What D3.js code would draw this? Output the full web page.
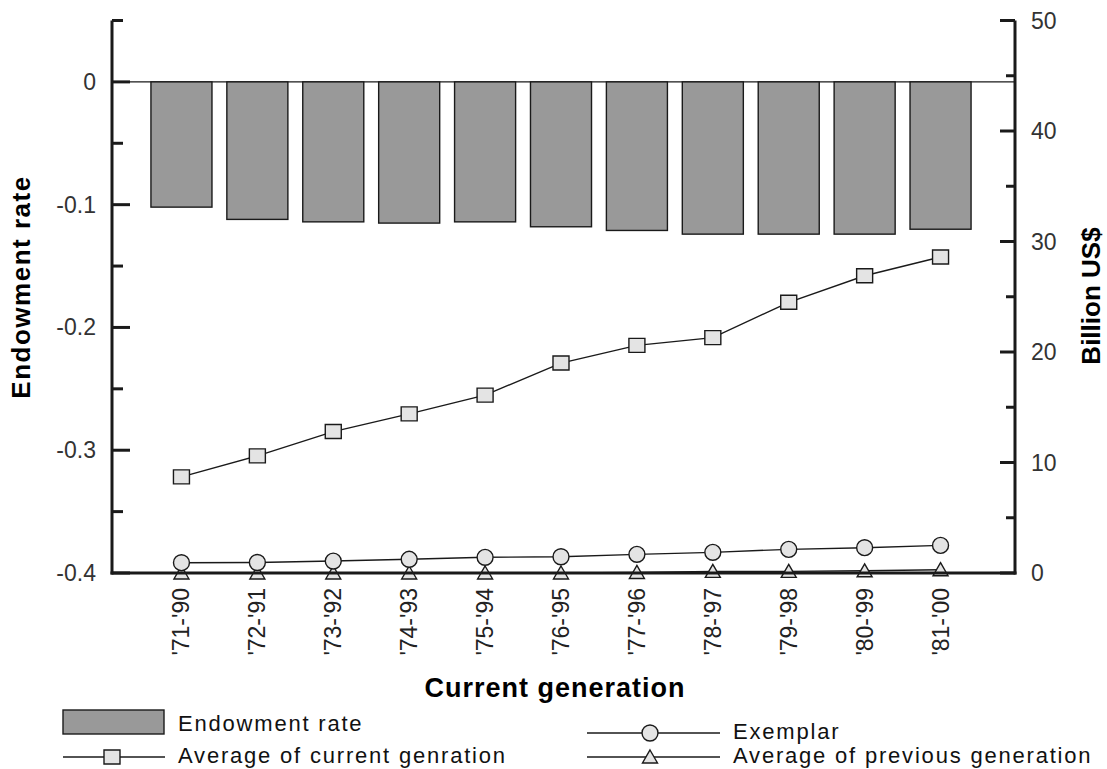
<!DOCTYPE html>
<html><head><meta charset="utf-8">
<script src="https://cdn.jsdelivr.net/npm/d3@7"></script>
<style>body{margin:0;background:#fff}svg{display:block;font-family:"Liberation Sans",Arial,sans-serif}</style>
</head><body><svg id="c" width="1107" height="769"></svg>
<script>
const categories = ["'71-'90","'72-'91","'73-'92","'74-'93","'75-'94","'76-'95","'77-'96","'78-'97","'79-'98","'80-'99","'81-'00"];
const endowmentRate = [-0.102,-0.112,-0.114,-0.115,-0.114,-0.118,-0.121,-0.124,-0.124,-0.124,-0.120];
const avgCurrent = [8.7,10.6,12.8,14.4,16.1,19.0,20.6,21.3,24.5,26.9,28.6];
const exemplar = [0.93,0.95,1.08,1.24,1.42,1.47,1.69,1.87,2.14,2.29,2.5];
const avgPrevious = [0,0,0,0,0,0,0.05,0.15,0.15,0.2,0.3];
const leftTicks = [0,-0.1,-0.2,-0.3,-0.4];
const leftTickLabels = ["0","-0.1","-0.2","-0.3","-0.4"];
const rightTicks = [0,10,20,30,40,50];

const svg = d3.select("#c");
const L = 112, R = 1015, T = 20.5, B = 573;
const x = d3.scaleBand().domain(categories).range([143.5, 978.5]).paddingInner(0.196).paddingOuter(0.098);
const yL = d3.scaleLinear().domain([-0.4, 0.05]).range([B, T]);
const yR = d3.scaleLinear().domain([0, 50]).range([B, T]);
const cx = c => x(c) + x.bandwidth()/2;
const ink = "#1a1a1a";
const tickFont = 23, legFont = 22, legSpacing = 1.8;

// zero line
svg.append("line").attr("x1",L).attr("x2",R).attr("y1",yL(0)).attr("y2",yL(0)).attr("stroke",ink).attr("stroke-width",1.2);

// bars
svg.append("g").selectAll("rect").data(endowmentRate).join("rect")
  .attr("x",(d,i)=>x(categories[i])).attr("width",x.bandwidth())
  .attr("y",yL(0)).attr("height",d=>yL(d)-yL(0))
  .attr("fill","#999999").attr("stroke",ink).attr("stroke-width",1.4);

// lines
function series(vals, shape){
  const pts = vals.map((v,i)=>[cx(categories[i]), yR(v)]);
  const g = svg.append("g");
  g.append("path").attr("d", d3.line()(pts)).attr("fill","none").attr("stroke",ink).attr("stroke-width",1.4);
  g.selectAll("path.m").data(pts).join("path").attr("class","m")
    .attr("transform",d=>`translate(${d[0]},${d[1]})`)
    .attr("d",shape).attr("fill","#e4e4e4").attr("stroke",ink).attr("stroke-width",1.4);
}
const squareP = "M-8,-7H8V7H-8Z";
const circleP = d3.symbol(d3.symbolCircle, 200)();
const triP = "M0,-7L7.5,6H-7.5Z";
series(avgPrevious, triP);
series(exemplar, circleP);
series(avgCurrent, squareP);

// axes
const axG = svg.append("g").attr("stroke",ink);
axG.append("line").attr("x1",L).attr("x2",L).attr("y1",T).attr("y2",B+1.5).attr("stroke-width",3);
axG.append("line").attr("x1",R).attr("x2",R).attr("y1",T).attr("y2",B+1.5).attr("stroke-width",3);
axG.append("line").attr("x1",L-1.5).attr("x2",R+1.5).attr("y1",B).attr("y2",B).attr("stroke-width",3);

const leftMinor = d3.range(0.05, -0.40, -0.1);
svg.append("g").selectAll("line").data(leftTicks).join("line")
  .attr("x1",L).attr("x2",L+18).attr("y1",d=>yL(d)).attr("y2",d=>yL(d)).attr("stroke",ink).attr("stroke-width",3);
svg.append("g").selectAll("line").data(leftMinor).join("line")
  .attr("x1",L).attr("x2",L+11).attr("y1",d=>yL(d)).attr("y2",d=>yL(d)).attr("stroke",ink).attr("stroke-width",3);
svg.append("g").selectAll("text").data(leftTicks).join("text")
  .attr("x",L-16).attr("y",d=>yL(d)).attr("dy","0.35em").attr("text-anchor","end")
  .attr("font-size",tickFont).attr("fill","#333").text((d,i)=>leftTickLabels[i]);

const rightMinor = d3.range(5, 50, 10);
svg.append("g").selectAll("line").data(rightTicks).join("line")
  .attr("x1",R-15).attr("x2",R).attr("y1",d=>yR(d)).attr("y2",d=>yR(d)).attr("stroke",ink).attr("stroke-width",3);
svg.append("g").selectAll("line").data(rightMinor).join("line")
  .attr("x1",R-9).attr("x2",R).attr("y1",d=>yR(d)).attr("y2",d=>yR(d)).attr("stroke",ink).attr("stroke-width",3);
svg.append("g").selectAll("text").data(rightTicks).join("text")
  .attr("x",R+16).attr("y",d=>yR(d)).attr("dy","0.35em").attr("text-anchor","start")
  .attr("font-size",tickFont).attr("fill","#333").text(d=>d);

// x labels
svg.append("g").selectAll("text").data(categories).join("text")
  .attr("transform",c=>`translate(${cx(c)+8},588) rotate(-90)`)
  .attr("text-anchor","end").attr("font-size",tickFont).attr("fill","#222").text(c=>c);

// titles
svg.append("text").attr("x",555).attr("y",697).attr("text-anchor","middle")
  .attr("font-size",27).attr("letter-spacing",1).attr("font-weight","bold").attr("fill","#000").text("Current generation");
svg.append("text").attr("transform","translate(30,287) rotate(-90)").attr("text-anchor","middle")
  .attr("font-size",26).attr("letter-spacing",1.5).attr("font-weight","bold").attr("fill","#000").text("Endowment rate");
svg.append("text").attr("transform","translate(1100,296) rotate(-90)").attr("text-anchor","middle")
  .attr("font-size",26).attr("font-weight","bold").attr("fill","#000").text("Billion US$");

// legend
const lg = svg.append("g");
const legText = (xx, yy, t) => lg.append("text").attr("x",xx).attr("y",yy).attr("dy","0.35em")
  .attr("font-size",legFont).attr("letter-spacing",legSpacing).attr("fill","#111").text(t);
lg.append("rect").attr("x",63).attr("y",710).attr("width",101).attr("height",24).attr("fill","#999999").attr("stroke",ink).attr("stroke-width",1.4);
legText(178, 723, "Endowment rate");
lg.append("line").attr("x1",63).attr("x2",165).attr("y1",757).attr("y2",757).attr("stroke",ink).attr("stroke-width",1.4);
lg.append("path").attr("transform","translate(112,757)").attr("d",squareP).attr("fill","#e4e4e4").attr("stroke",ink).attr("stroke-width",1.4);
legText(178, 755, "Average of current genration");
lg.append("line").attr("x1",587).attr("x2",720).attr("y1",733).attr("y2",733).attr("stroke",ink).attr("stroke-width",1.4);
lg.append("path").attr("transform","translate(650,733)").attr("d",circleP).attr("fill","#e4e4e4").attr("stroke",ink).attr("stroke-width",1.4);
legText(733, 731, "Exemplar");
lg.append("line").attr("x1",587).attr("x2",720).attr("y1",757).attr("y2",757).attr("stroke",ink).attr("stroke-width",1.4);
lg.append("path").attr("transform","translate(650,757)").attr("d",triP).attr("fill","#e4e4e4").attr("stroke",ink).attr("stroke-width",1.4);
legText(733, 755, "Average of previous generation");
</script></body></html>
